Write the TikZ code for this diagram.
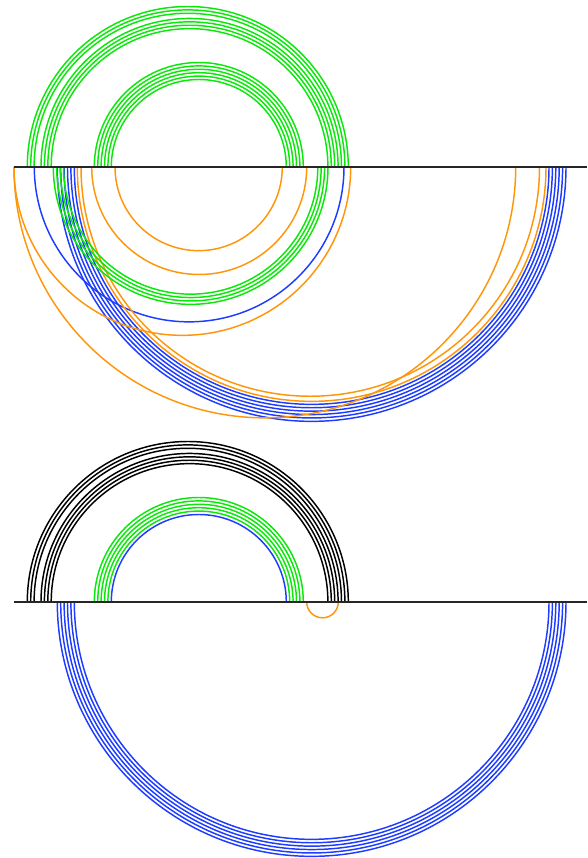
\documentclass[tikz,border=0pt]{standalone}
\definecolor{arcgreen}{RGB}{10,232,10}
\definecolor{arcblue}{RGB}{30,60,255}
\definecolor{arcorange}{RGB}{255,150,10}
\tikzset{
  arcline/.style={line width=1.1pt},
  baseline/.style={line width=1.1pt, draw=black!85},
}
\def\dstep{3.4}
% stack of arcs: #1 left, #2 right, #3 count, #4 base y, #5 style
\newcommand\arcstackup[5]{%
  \foreach \k in {1,...,#3}{%
    \pgfmathsetmacro\lpos{#1+(\k-1)*\dstep}%
    \pgfmathsetmacro\rad{(#2-#1)/2-(\k-1)*\dstep}%
    \draw[arcline,#5] (\lpos,#4) arc[start angle=180,end angle=0,radius=\rad];
  }}
\newcommand\arcstackdown[5]{%
  \foreach \k in {1,...,#3}{%
    \pgfmathsetmacro\lpos{#1+(\k-1)*\dstep}%
    \pgfmathsetmacro\rad{(#2-#1)/2-(\k-1)*\dstep}%
    \draw[arcline,#5] (\lpos,#4) arc[start angle=180,end angle=360,radius=\rad];
  }}
\begin{document}
\begin{tikzpicture}[x=0.75pt,y=0.75pt]
\useasboundingbox (0,0) rectangle (587,858);
% ---------- top diagram, baseline y=167 -> 691 ----------
\def\bt{691}
% above: green
\arcstackup{27.3}{348.3}{3}{\bt}{arcgreen}
\arcstackup{41}{338.1}{4}{\bt}{arcgreen}
\arcstackup{94.3}{303.3}{6}{\bt}{arcgreen}
% below
\arcstackdown{57.3}{566}{6}{\bt}{arcblue}
\arcstackdown{34.3}{344}{1}{\bt}{arcblue}
\arcstackdown{14}{515.7}{1}{\bt}{arcorange}
\arcstackdown{14}{350.7}{1}{\bt}{arcorange}
\arcstackdown{77.3}{546}{1}{\bt}{arcorange}
\arcstackdown{81}{539.5}{1}{\bt}{arcorange}
\arcstackdown{91.7}{306.7}{1}{\bt}{arcorange}
\arcstackdown{115}{282.3}{1}{\bt}{arcorange}
\arcstackdown{53.3}{328}{4}{\bt}{arcgreen}
\coordinate (t0) at (14,\bt);
\coordinate (t1) at (587,\bt);
\draw[baseline] (t0) -- (t1);
% ---------- bottom diagram, baseline y=602 -> 256 ----------
\def\bb{256}
\arcstackup{27.3}{348.3}{3}{\bb}{black}
\arcstackup{41}{338.1}{4}{\bb}{black}
\arcstackup{94.3}{303.3}{5}{\bb}{arcgreen}
\arcstackup{111.3}{286.3}{1}{\bb}{arcblue}
\arcstackdown{57.3}{566}{6}{\bb}{arcblue}
\arcstackdown{306.7}{338.3}{1}{\bb}{arcorange}
\coordinate (b0) at (14,\bb);
\coordinate (b1) at (587,\bb);
\draw[baseline] (b0) -- (b1);
\end{tikzpicture}
\end{document}
